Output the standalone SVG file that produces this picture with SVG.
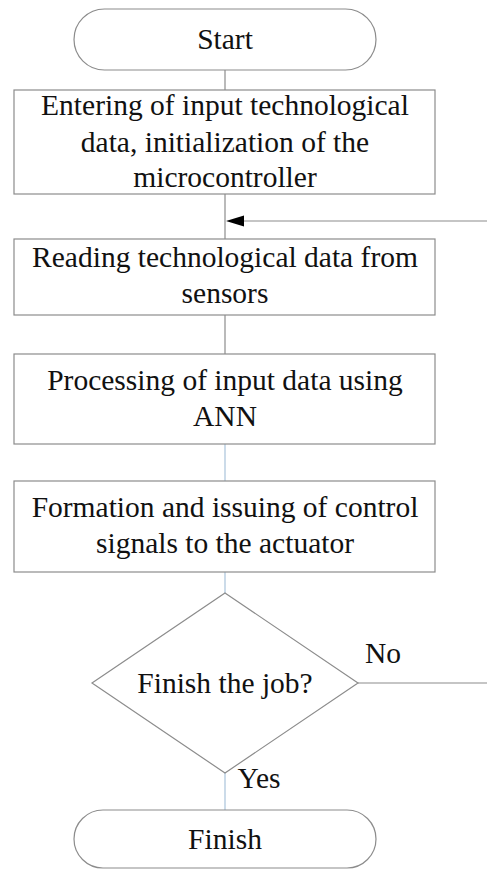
<svg xmlns="http://www.w3.org/2000/svg" width="487" height="869" viewBox="0 0 487 869">
<defs>
<style>
.n{fill:#fff;stroke:#8c8c8c;stroke-width:1.2}
.t{font-family:"Liberation Serif","Times New Roman",serif;font-size:29.5px;fill:#111;text-anchor:middle}
.c{fill:none;stroke:#8c8c8c;stroke-width:1.2}
.b{fill:none;stroke:#a9c3da;stroke-width:1.2}
</style>
</defs>
<rect width="487" height="869" fill="#fff"/>
<g id="connectors">
<line class="c" x1="225" y1="70" x2="225" y2="90"/>
<line class="c" x1="225" y1="194" x2="225" y2="239"/>
<line class="c" x1="487" y1="221" x2="244" y2="221"/>
<path d="M226,221 L244,215.5 L244,226.5 Z" fill="#000"/>
<line class="c" x1="225" y1="315" x2="225" y2="354"/>
<line class="b" x1="225" y1="444" x2="225" y2="481"/>
<line class="b" x1="225" y1="572" x2="225" y2="593"/>
<line class="c" x1="358" y1="683" x2="487" y2="683"/>
<line class="b" x1="225" y1="773" x2="225" y2="810"/>
</g>
<g id="start">
<rect class="n" x="74" y="9" width="302" height="61" rx="30.5"/>
<text class="t" x="225" y="49">Start</text>
</g>
<g id="entering">
<rect class="n" x="14" y="90" width="421" height="104"/>
<text class="t" x="225" y="115">Entering of input technological</text>
<text class="t" x="225" y="152">data, initialization of the</text>
<text class="t" x="225" y="187">microcontroller</text>
</g>
<g id="reading">
<rect class="n" x="14" y="239" width="421" height="76"/>
<text class="t" x="225" y="267">Reading technological data from</text>
<text class="t" x="225" y="303">sensors</text>
</g>
<g id="processing">
<rect class="n" x="14" y="354" width="421" height="90"/>
<text class="t" x="225" y="390">Processing of input data using</text>
<text class="t" x="225" y="426">ANN</text>
</g>
<g id="formation">
<rect class="n" x="14" y="481" width="421" height="91"/>
<text class="t" x="225" y="517">Formation and issuing of control</text>
<text class="t" x="225" y="553">signals to the actuator</text>
</g>
<g id="decision">
<polygon class="n" points="225,593 358,683 225,773 92,683"/>
<text class="t" x="225" y="693">Finish the job?</text>
<text class="t" x="383" y="663">No</text>
<text class="t" x="259" y="788">Yes</text>
</g>
<g id="finish">
<rect class="n" x="74" y="810" width="302" height="58" rx="29"/>
<text class="t" x="225" y="849">Finish</text>
</g>
</svg>
